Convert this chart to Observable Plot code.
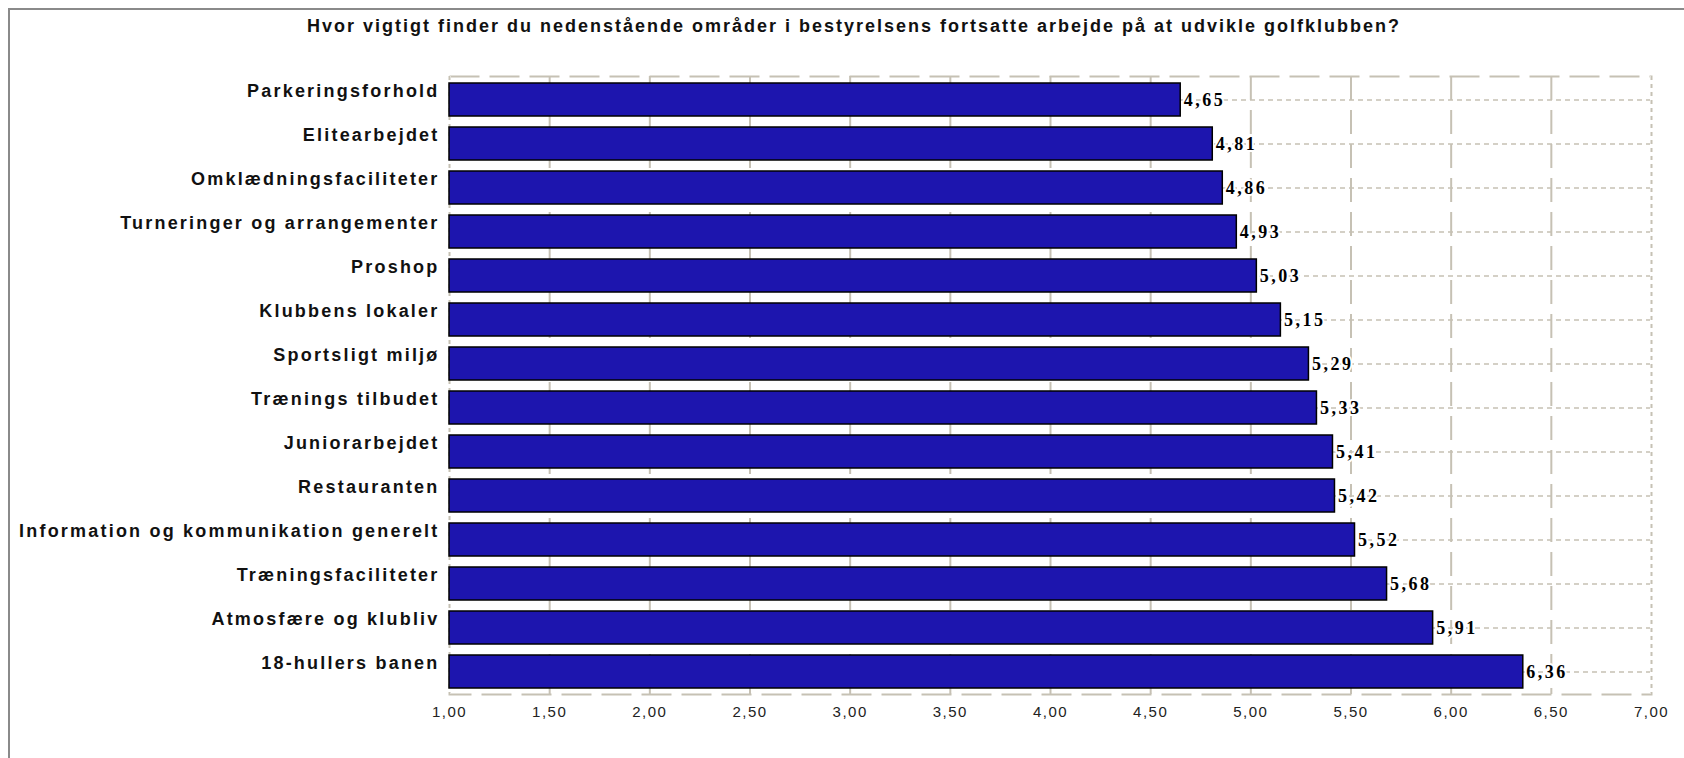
<!DOCTYPE html>
<html>
<head>
<meta charset="utf-8">
<script src="https://cdn.jsdelivr.net/npm/d3@7"></script>
<script src="https://cdn.jsdelivr.net/npm/@observablehq/plot@0.6"></script>
<style>
  html, body { margin: 0; padding: 0; background: #fff; }
  #wrap { position: relative; width: 1684px; height: 758px; overflow: hidden; background: #fff; }
  #frame { position: absolute; left: 8px; top: 8px; width: 3000px; height: 3000px;
           border-left: 2px solid #8a8a8a; border-top: 2px solid #8a8a8a; }
  #title { position: absolute; left: 0; width: 1708px; top: 16px; text-align: center;
           font: bold 18px "Liberation Sans", Arial, sans-serif; letter-spacing: 2px; color: #111; }
  #chart { position: absolute; left: 0; top: 0; }
</style>
</head>
<body>
<div id="wrap">
  <div id="frame"></div>
  <div id="title">Hvor vigtigt finder du nedenstående områder i bestyrelsens fortsatte arbejde på at udvikle golfklubben?</div>
  <div id="chart"></div>
</div>
<script>
const categories = [
  "Parkeringsforhold",
  "Elitearbejdet",
  "Omklædningsfaciliteter",
  "Turneringer og arrangementer",
  "Proshop",
  "Klubbens lokaler",
  "Sportsligt miljø",
  "Trænings tilbudet",
  "Juniorarbejdet",
  "Restauranten",
  "Information og kommunikation generelt",
  "Træningsfaciliteter",
  "Atmosfære og klubliv",
  "18-hullers banen"
];
const values = [4.65, 4.81, 4.86, 4.93, 5.03, 5.15, 5.29, 5.33, 5.41, 5.42, 5.52, 5.68, 5.91, 6.36];
const xTicks = [1, 1.5, 2, 2.5, 3, 3.5, 4, 4.5, 5, 5.5, 6, 6.5, 7];

const data = categories.map((c, i) => ({category: c, value: values[i]}));
const fmt = d => d.toFixed(2).replace(".", ",");
const xMin = xTicks[0], xMax = xTicks[xTicks.length - 1];
const gridColor = "#c6c1b4";
const barColor = "#1d15ae";

const chart = Plot.plot({
  width: 1684,
  height: 758,
  marginLeft: 449,
  marginRight: 33,
  marginTop: 76,
  marginBottom: 64,
  style: {background: "transparent", fontFamily: "'Liberation Sans', Arial, sans-serif"},
  x: {domain: [xMin, xMax], axis: null, label: null},
  y: {domain: categories, axis: null, label: null, paddingInner: 0.25, paddingOuter: 0.125},
  marks: [
    Plot.gridY({stroke: gridColor, strokeOpacity: 1, strokeWidth: 1.5, strokeDasharray: "5,4"}),
    Plot.gridX({ticks: xTicks.slice(1, -1), stroke: gridColor, strokeOpacity: 1, strokeWidth: 2, strokeDasharray: "24,10"}),
    Plot.frame({stroke: gridColor, strokeWidth: 2, strokeDasharray: "30,10"}),
    Plot.ruleX([xMin, xMax], {stroke: "white", strokeWidth: 3}),
    Plot.ruleX([xMin, xMax], {stroke: gridColor, strokeWidth: 2, strokeDasharray: "4,4"}),
    Plot.barX(data, {y: "category", x1: xMin, x2: "value", fill: barColor, stroke: "#000", strokeWidth: 1.5}),
    Plot.text(data, {
      y: "category", x: "value", text: d => fmt(d.value), dx: 3, textAnchor: "start",
      fontFamily: "'Liberation Serif', 'Times New Roman', serif", fontWeight: "bold", fontSize: 18,
      fill: "#000", stroke: "white", strokeWidth: 4
    }),
    Plot.text(categories, {
      y: d => d, text: d => d, frameAnchor: "left", textAnchor: "end", dx: -10, dy: -9,
      fontWeight: "bold", fontSize: 18, fill: "#111"
    }),
    Plot.axisX({ticks: xTicks, tickFormat: fmt, tickSize: 0, tickPadding: 12, fontSize: 15, fill: "#222", label: null})
  ]
});

const tickStrings = xTicks.map(fmt);
const valueStrings = values.map(fmt);
chart.querySelectorAll("text").forEach(t => {
  const s = t.textContent;
  if (categories.includes(s)) t.style.letterSpacing = "2.2px";
  else if (valueStrings.includes(s)) t.style.letterSpacing = "2.5px";
  else if (tickStrings.includes(s)) t.style.letterSpacing = "1.5px";
});
document.getElementById("chart").appendChild(chart);
</script>
</body>
</html>
